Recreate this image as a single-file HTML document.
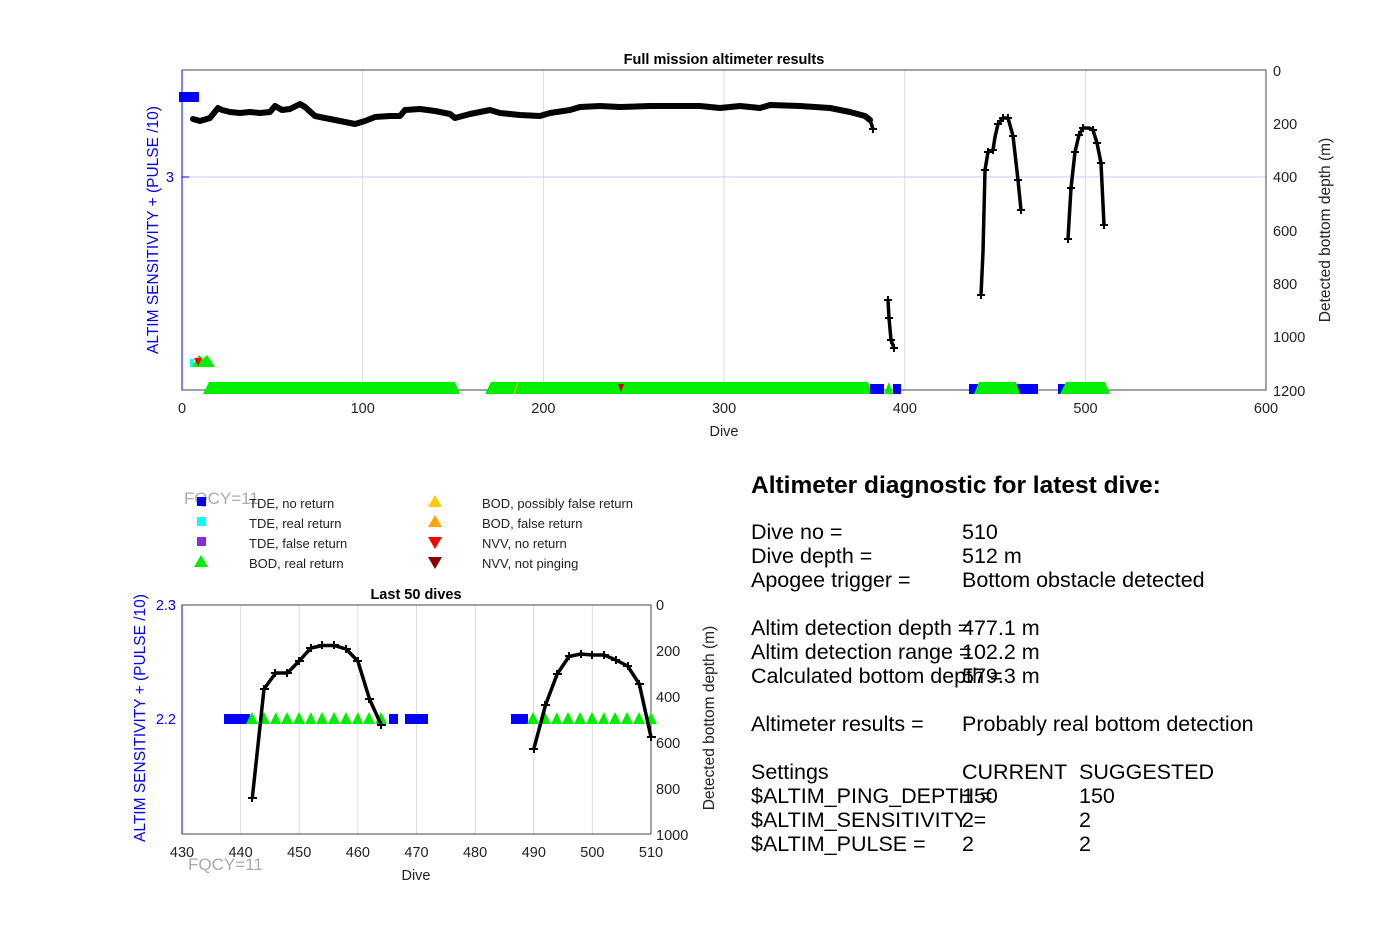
<!DOCTYPE html>
<html><head><meta charset="utf-8"><style>
body{margin:0;background:#fff;}
svg text{font-family:"Liberation Sans",Arial,sans-serif;}
</style></head><body>
<svg width="1400" height="938" viewBox="0 0 1400 938" xmlns="http://www.w3.org/2000/svg">
<g stroke="#dcdcdc" stroke-width="1">
<line x1="362.7" y1="70" x2="362.7" y2="390"/><line x1="543.4" y1="70" x2="543.4" y2="390"/><line x1="724.1" y1="70" x2="724.1" y2="390"/><line x1="904.8" y1="70" x2="904.8" y2="390"/><line x1="1085.5" y1="70" x2="1085.5" y2="390"/>
</g>
<line x1="182" y1="177" x2="1266" y2="177" stroke="#c8c8ff" stroke-width="1"/>
<rect x="182" y="70" width="1084" height="320" fill="none" stroke="#444" stroke-width="1"/>
<line x1="182" y1="70" x2="182" y2="390" stroke="#0000ff"/>
<line x1="182" y1="177" x2="189" y2="177" stroke="#0000ff"/>
<text x="724" y="64" font-size="14.5" font-weight="bold" text-anchor="middle">Full mission altimeter results</text>
<g font-size="14.5" text-anchor="middle" fill="#222">
<text x="182" y="413">0</text><text x="362.7" y="413">100</text><text x="543.4" y="413">200</text><text x="724.1" y="413">300</text><text x="904.8" y="413">400</text><text x="1085.5" y="413">500</text><text x="1266" y="413">600</text>
<text x="724" y="436">Dive</text>
</g>
<g font-size="14.5" fill="#222">
<text x="1273" y="76">0</text><text x="1273" y="129">200</text><text x="1273" y="182">400</text><text x="1273" y="236">600</text><text x="1273" y="289">800</text><text x="1273" y="342">1000</text><text x="1273" y="396">1200</text>
</g>
<text x="174" y="182" font-size="14.5" fill="#0000ff" text-anchor="end">3</text>
<text transform="translate(158,230) rotate(-90)" font-size="15.5" fill="#0000ff" text-anchor="middle">ALTIM SENSITIVITY + (PULSE /10)</text>
<text transform="translate(1330,230) rotate(-90)" font-size="15.5" fill="#222" text-anchor="middle">Detected bottom depth (m)</text>
<rect x="179" y="92" width="20" height="10" fill="#0000ff"/>
<rect x="190" y="359" width="4" height="8" fill="#00ffff"/>
<polygon points="192,367 199,355 203,359 207,355 215,367" fill="#00ee00"/>
<polygon points="194,358 202,358 198,366" fill="#ff0000"/>
<polygon points="203,394 209,382 455,382 460,394" fill="#00ee00"/>
<polygon points="485,394 491,382 868,382 872,394" fill="#00ee00"/>
<line x1="514" y1="394" x2="518" y2="382" stroke="#ffc000" stroke-width="1"/>
<polygon points="618,384 624,384 621,392" fill="#cc0000"/>
<rect x="870" y="384" width="14" height="10" fill="#0000ff"/>
<polygon points="884,394 889,382 893,394" fill="#00ee00"/>
<rect x="893" y="384" width="8" height="10" fill="#0000ff"/>
<rect x="969" y="384" width="69" height="10" fill="#0000ff"/>
<polygon points="974,394 979,382 1016,382 1020,394" fill="#00ee00"/>
<rect x="1058" y="384" width="8" height="10" fill="#0000ff"/>
<polygon points="1060,394 1066,382 1105,382 1110,394" fill="#00ee00"/>
<g fill="none" stroke="#000" stroke-width="6" stroke-linejoin="round" stroke-linecap="round">
<polyline points="193,119 200,121 210,118 218,108 222,110 230,112 240,113 250,112 260,113 270,112 275,106 282,110 290,109 300,104 305,107 315,116 330,119 345,122 355,124 365,121 375,117 390,116 400,116 405,110 420,109 435,111 450,114 455,118 470,114 490,110 500,113 520,115 540,116 550,113 570,110 580,107 600,106 620,107 650,106 700,106 720,108 740,106 760,108 770,105 800,106 830,108 850,112 865,116 870,120"/>
</g>
<g fill="none" stroke="#000" stroke-width="3.5" stroke-linejoin="round">
<polyline points="870,120 873,129"/>
<polyline points="888,300 889,318 891,340 894,348"/>
<polyline points="981,295 983,252 985,170 988,152 993,150 995,137 998,124 1003,118 1008,118 1013,136 1018,180 1021,210"/>
<polyline points="1068,239 1071,188 1075,152 1079,135 1083,128 1089,128 1093,130 1097,143 1101,163 1104,225"/>
</g>
<g stroke="#000" stroke-width="2">
<path d="M869,129h8M873,125v8M884,300h8M888,296v8M885,318h8M889,314v8M887,340h8M891,336v8M890,348h8M894,344v8"/>
<path d="M977,295h8M981,291v8M981,170h8M985,166v8M984,152h8M988,148v8M989,150h8M993,146v8M994,124h8M998,120v8M999,118h8M1003,114v8M1004,118h8M1008,114v8M1009,136h8M1013,132v8M1014,180h8M1018,176v8M1017,210h8M1021,206v8"/>
<path d="M1064,239h8M1068,235v8M1067,188h8M1071,184v8M1071,152h8M1075,148v8M1075,135h8M1079,131v8M1079,128h8M1083,124v8M1089,130h8M1093,126v8M1093,143h8M1097,139v8M1097,163h8M1101,159v8M1100,225h8M1104,221v8"/>
</g>
<text x="184" y="504" font-size="17" fill="#aaa">FQCY=11</text>
<g font-size="13" fill="#222">
<rect x="197" y="497" width="9" height="9" fill="#0000ff"/><text x="249" y="508">TDE, no return</text>
<rect x="197" y="517" width="9" height="9" fill="#00ffff"/><text x="249" y="528">TDE, real return</text>
<rect x="197" y="537" width="9" height="9" fill="#8a2be2"/><text x="249" y="548">TDE, false return</text>
<polygon points="194,567 201,555 208,567" fill="#00ee00"/><text x="249" y="568">BOD, real return</text>
<polygon points="428,507 435,495 442,507" fill="#ffcc00"/><text x="482" y="508">BOD, possibly false return</text>
<polygon points="428,527 435,515 442,527" fill="#ffa500"/><text x="482" y="528">BOD, false return</text>
<polygon points="428,537 442,537 435,549" fill="#ff0000"/><text x="482" y="548">NVV, no return</text>
<polygon points="428,557 442,557 435,569" fill="#8b0000"/><text x="482" y="568">NVV, not pinging</text>
</g>
<g stroke="#dcdcdc" stroke-width="1">
<line x1="240.6" y1="605" x2="240.6" y2="834"/><line x1="299.2" y1="605" x2="299.2" y2="834"/><line x1="357.9" y1="605" x2="357.9" y2="834"/><line x1="416.5" y1="605" x2="416.5" y2="834"/><line x1="475.1" y1="605" x2="475.1" y2="834"/><line x1="533.8" y1="605" x2="533.8" y2="834"/><line x1="592.4" y1="605" x2="592.4" y2="834"/>
</g>
<rect x="182" y="605" width="469" height="229" fill="none" stroke="#444"/>
<line x1="182" y1="605" x2="182" y2="834" stroke="#0000ff"/>
<text x="416" y="599" font-size="14.5" font-weight="bold" text-anchor="middle">Last 50 dives</text>
<g font-size="14.5" text-anchor="middle" fill="#222">
<text x="182" y="857">430</text><text x="240.6" y="857">440</text><text x="299.2" y="857">450</text><text x="357.9" y="857">460</text><text x="416.5" y="857">470</text><text x="475.1" y="857">480</text><text x="533.8" y="857">490</text><text x="592.4" y="857">500</text><text x="651" y="857">510</text>
<text x="416" y="880">Dive</text>
</g>
<g font-size="14.5" fill="#222">
<text x="656" y="610">0</text><text x="656" y="656">200</text><text x="656" y="702">400</text><text x="656" y="748">600</text><text x="656" y="794">800</text><text x="656" y="840">1000</text>
</g>
<g font-size="14.5" fill="#0000ff" text-anchor="end"><text x="176" y="610">2.3</text><text x="176" y="724">2.2</text></g>
<text transform="translate(145,718) rotate(-90)" font-size="15.5" fill="#0000ff" text-anchor="middle">ALTIM SENSITIVITY + (PULSE /10)</text>
<text transform="translate(714,718) rotate(-90)" font-size="15.5" fill="#222" text-anchor="middle">Detected bottom depth (m)</text>
<text x="188" y="870" font-size="17" fill="#aaa">FQCY=11</text>
<rect x="224" y="714" width="26" height="10" fill="#0000ff"/>
<rect x="389" y="714" width="9" height="10" fill="#0000ff"/>
<rect x="405" y="714" width="23" height="10" fill="#0000ff"/>
<rect x="511" y="714" width="17" height="10" fill="#0000ff"/>
<g fill="#00ee00">
<polygon points="246,724 252,712 258,724 264,712 270,724 276,712 281,724 287,712 293,724 299,712 305,724 311,712 316,724 322,712 328,724 334,712 340,724 346,712 352,724 358,712 363,724 369,712 375,724 381,712 387,724"/>
<polygon points="527,724 533,712 539,724 545,712 551,724 557,712 562,724 568,712 574,724 580,712 586,724 592,712 598,724 604,712 609,724 615,712 621,724 627,712 633,724 639,712 645,724 651,712 657,724"/>
</g>
<g fill="none" stroke="#000" stroke-width="3.5" stroke-linejoin="round">
<polyline points="252.3,798 264,689 275.7,673 287.4,673 299.2,661 310.9,648 322.6,645.5 334.3,645.5 346.1,649 357.8,661 369.5,699 381.2,725"/>
<polyline points="533.8,749 545.5,705 557.2,674 569,656.5 580.7,654 592.4,655 604.1,655 615.9,660 627.6,666 639.3,684 651,737"/>
</g>
<g stroke="#000" stroke-width="2">
<path d="M248,798h9M252,794v8M260,689h9M264,685v8M271,673h9M275,669v8M283,673h9M287,669v8M295,661h9M299,657v8M306,648h9M311,644v8M318,645h9M322,641v8M330,645h9M334,641v8M342,649h9M346,645v8M353,661h9M358,657v8M365,699h9M369,695v8M377,725h9M381,721v8"/>
<path d="M529,749h9M534,745v8M541,705h9M545,701v8M553,674h9M557,670v8M565,656h9M569,652v8M576,654h9M581,650v8M588,655h9M592,651v8M600,655h9M604,651v8M611,660h9M616,656v8M623,666h9M628,662v8M635,684h9M639,680v8M647,737h9M651,733v8"/>
</g>
<text x="751" y="493" font-size="24.5" font-weight="bold" fill="#000">Altimeter diagnostic for latest dive:</text>
<g font-size="21.5" fill="#000">
<text x="751" y="539">Dive no =</text><text x="962" y="539">510</text>
<text x="751" y="563">Dive depth =</text><text x="962" y="563">512 m</text>
<text x="751" y="587">Apogee trigger =</text><text x="962" y="587">Bottom obstacle detected</text>
<text x="751" y="635">Altim detection depth =</text><text x="962" y="635">477.1 m</text>
<text x="751" y="659">Altim detection range =</text><text x="962" y="659">102.2 m</text>
<text x="751" y="683">Calculated bottom depth =</text><text x="962" y="683">579.3 m</text>
<text x="751" y="731">Altimeter results =</text><text x="962" y="731">Probably real bottom detection</text>
<text x="751" y="779">Settings</text><text x="962" y="779">CURRENT</text><text x="1079" y="779">SUGGESTED</text>
<text x="751" y="803">$ALTIM_PING_DEPTH =</text><text x="962" y="803">150</text><text x="1079" y="803">150</text>
<text x="751" y="827">$ALTIM_SENSITIVITY =</text><text x="962" y="827">2</text><text x="1079" y="827">2</text>
<text x="751" y="851">$ALTIM_PULSE =</text><text x="962" y="851">2</text><text x="1079" y="851">2</text>
</g>
</svg>
</body></html>
